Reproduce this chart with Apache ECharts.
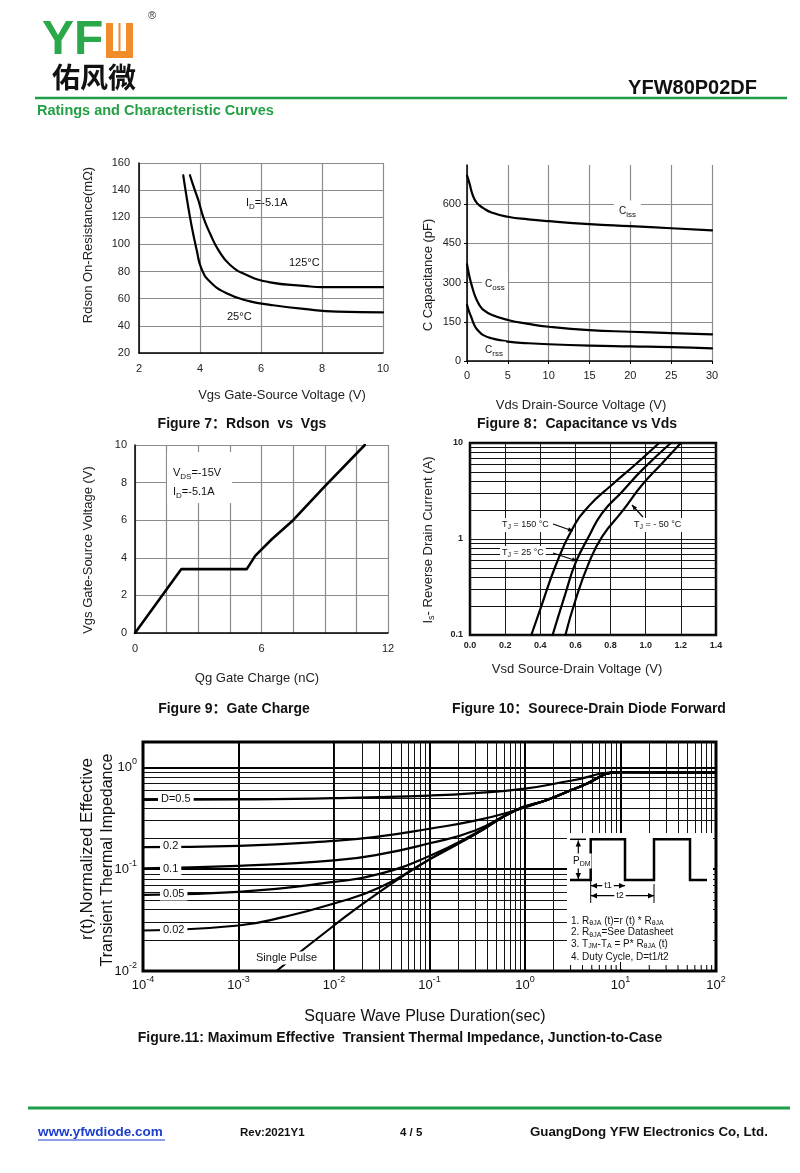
<!DOCTYPE html>
<html><head><meta charset="utf-8">
<script src="https://cdn.jsdelivr.net/npm/echarts@6/dist/echarts.min.js"></script>
<style>html,body{margin:0;padding:0;background:#fff}#c{width:800px;height:1173px}</style>
</head><body><div id="c"></div><script>
const F = '"Liberation Sans", Arial, "Noto Sans CJK SC", sans-serif';

// ---------- DATA ----------
// Figure 7: Rdson vs Vgs  [Vgs (V), Rdson (mOhm)]
const fig7Vgs25 = [[3.45,151],[3.56,135],[3.73,113],[3.89,96],[4.05,82],[4.33,72.5],[4.87,64],[5.64,58],[6.3,55.5],[7.4,52.5],[8.5,50.5],[10,50]];
const fig7Vgs125 = [[3.67,151],[3.8,142],[3.94,133],[4.11,120],[4.33,108],[4.6,96],[4.98,85],[5.53,77.5],[6.3,72],[7.4,69.5],[8,68.5],[10,68.5]];
// Figure 8: Capacitance vs Vds [Vds (V), C (pF)]
const fig8Ciss = [[0,710],[0.3,680],[0.7,635],[1.2,605],[2,585],[3,568],[5,552],[7.5,542],[10,535],[15,524],[20,516],[25,508],[30,500]];
const fig8Coss = [[0,370],[0.25,330],[0.5,298],[1,247],[1.5,215],[2,196],[3,177],[5,157],[7.5,142],[10,131],[15,118],[20,112],[25,107],[30,102]];
const fig8Crss = [[0,215],[0.25,190],[0.5,170],[1,131],[1.5,112],[2,99],[3,87],[5,74],[7.5,68],[10,64],[15,59],[20,56],[25,53],[30,48]];
// Figure 9: Gate charge [Qg (nC), Vgs (V)]
const fig9Qg = [[0,0],[2.2,3.4],[5.3,3.4],[5.7,4.1],[6.5,5.0],[7.5,6.0],[9,7.8],[10.9,10]];
const fig9XLabels = [0, 6, 12];
// Figure 10: Source-drain diode forward [Vsd (V), Is (A)]
const fig10T150 = [[0.349,0.1],[0.41,0.21],[0.486,0.52],[0.58,1.25],[0.676,2.2],[0.81,3.7],[0.943,6.0],[1.076,10]];
const fig10T25 = [[0.47,0.1],[0.543,0.27],[0.6,0.56],[0.676,1.06],[0.752,1.86],[0.867,3.13],[0.98,5.25],[1.143,10]];
const fig10Tm50 = [[0.543,0.1],[0.6,0.23],[0.676,0.56],[0.752,1.06],[0.867,1.95],[0.98,3.67],[1.095,6.2],[1.2,10]];
const fig10YLabels = [0.1, 1, 10];
// Figure 11: Transient thermal impedance [t (s), r(t)]
const fig11D05 = [[1e-4,0.48],[1e-3,0.485],[1e-2,0.5],[0.1,0.53],[0.3,0.56],[1,0.62],[3,0.74],[10,0.9],[100,0.89]];
const fig11D02 = [[1e-4,0.165],[1e-3,0.17],[1e-2,0.19],[0.03,0.21],[0.1,0.25],[0.3,0.3],[0.8,0.38],[1.7,0.48],[3.8,0.65],[10,0.9],[100,0.89]];
const fig11D01 = [[1e-4,0.102],[1e-3,0.108],[1e-2,0.122],[0.03,0.14],[0.1,0.18],[0.3,0.24],[0.8,0.38],[1.7,0.48],[3.8,0.65],[10,0.9],[100,0.89]];
const fig11D005 = [[1e-4,0.056],[1e-3,0.06],[1e-2,0.075],[0.03,0.09],[0.1,0.135],[0.3,0.225],[0.8,0.38],[1.7,0.48],[3.8,0.65],[10,0.9],[100,0.89]];
const fig11D002 = [[1e-4,0.025],[1e-3,0.028],[3e-3,0.034],[1e-2,0.046],[0.03,0.066],[0.1,0.125],[0.3,0.22],[0.8,0.38],[1.7,0.48],[3.8,0.65],[10,0.9],[100,0.89]];
const fig11Single = [[2.5e-3,0.01],[1e-2,0.028],[0.03,0.06],[0.1,0.125],[0.3,0.22],[0.8,0.38],[1.7,0.48],[3.8,0.65],[10,0.9],[100,0.89]];
const fig11XExp = [-4,-3,-2,-1,0,1,2];
const fig11YExp = [-2,-1,0];

// ---------- helpers ----------
const GRAY = '#8c8c8c';
function minorLog(e0, e1, maxV) {
  const out = [];
  for (let e = e0; e < e1; e++) for (let m = 2; m <= 9; m++) {
    const v = +(m * Math.pow(10, e)).toPrecision(3);
    if (v < maxV) out.push(v);
  }
  return out;
}
const fig10MinorY = minorLog(-1, 1, 10);
const fig11MinorX = minorLog(-4, 2, 100);
const fig11MinorY = minorLog(-2, 1, 1.78);

function curve(data, gi, width, smooth) {
  return { type: 'line', xAxisIndex: gi, yAxisIndex: gi, data: data, symbol: 'none', showSymbol: false,
    smooth: smooth, lineStyle: { color: '#000', width: width, join: 'round', cap: 'round' }, z: 3, silent: true, animation: false };
}
function gridLines(gi, xs, ys, width) {
  return { type: 'line', xAxisIndex: gi, yAxisIndex: gi, data: [], z: 1, silent: true, animation: false,
    markLine: { z: 1, symbol: ['none', 'none'], silent: true, animation: false, label: { show: false },
      emphasis: { disabled: true }, lineStyle: { color: '#111', width: width, type: 'solid' },
      data: xs.map(v => ({ xAxis: v })).concat(ys.map(v => ({ yAxis: v }))) } };
}
const SUB = { s: { font: '8px ' + F, fontSize: 8, verticalAlign: 'bottom', lineHeight: 9 } };
function T(x, y, text, o) {
  o = o || {};
  const font = o.font || ('11px ' + F);
  const st = { text: text, font: font, fill: o.fill || '#111',
    align: o.align || 'left', verticalAlign: o.va || 'middle',
    textAlign: o.align || 'left', textVerticalAlign: o.va || 'middle' };
  if (o.rich) { st.rich = o.rich; st.lineHeight = o.lh || 15; }
  if (o.bg) { st.backgroundColor = '#fff'; st.padding = o.pad || [1, 2]; st.textBackgroundColor = '#fff'; st.textPadding = o.pad || [1, 2]; }
  return { type: 'text', x: x, y: y, rotation: o.rot || 0, z: o.z || 100, silent: true, style: st };
}
function L(x1, y1, x2, y2, w, z) {
  return { type: 'line', z: z || 100, silent: true, shape: { x1: x1, y1: y1, x2: x2, y2: y2 }, style: { stroke: '#000', lineWidth: w || 1 } };
}
function R(x, y, w, h, fill, z) {
  return { type: 'rect', z: z || 90, silent: true, shape: { x: x, y: y, width: w, height: h }, style: { fill: fill } };
}
function head(x1, y1, x2, y2, size) {
  const a = Math.atan2(y2 - y1, x2 - x1), s = size || 5, w = s * 0.45;
  const bx = x2 - s * Math.cos(a), by = y2 - s * Math.sin(a);
  return { type: 'polygon', z: 101, silent: true, shape: { points: [[x2, y2], [bx + w * Math.sin(a), by - w * Math.cos(a)], [bx - w * Math.sin(a), by + w * Math.cos(a)]] }, style: { fill: '#000' } };
}
function arrow(x1, y1, x2, y2, w, s) { return [L(x1, y1, x2, y2, w || 1), head(x1, y1, x2, y2, s)]; }
function dblArrow(x1, y1, x2, y2, w, s) { return [L(x1, y1, x2, y2, w || 1), head(x1, y1, x2, y2, s), head(x2, y2, x1, y1, s)]; }

// ---------- axes ----------
const lab = (sz, extra) => Object.assign({ fontSize: sz, color: '#222', fontFamily: F }, extra || {});
const blackLine = (w) => ({ show: true, onZero: false, lineStyle: { color: '#000', width: w } });
const graySplit = { show: true, lineStyle: { color: GRAY, width: 1.2 } };
const expFmt = v => '{b|10}{s|' + Math.round(Math.log10(v)) + '}';
const expRich = { b: { fontSize: 13, lineHeight: 20, fontFamily: F, color: '#111' }, s: { fontSize: 9, lineHeight: 9, verticalAlign: 'top', fontFamily: F, color: '#111' } };

const xAxis = [
  { gridIndex: 0, type: 'value', min: 2, max: 10, interval: 2, axisLine: blackLine(1.5), axisTick: { show: false }, axisLabel: lab(11, { margin: 10 }), splitLine: graySplit },
  { gridIndex: 1, type: 'value', min: 0, max: 30, interval: 5, axisLine: blackLine(1.5), axisTick: { show: true, length: 3, lineStyle: { color: '#000' } }, axisLabel: lab(11, { margin: 9 }), splitLine: graySplit },
  { gridIndex: 2, type: 'value', min: 0, max: 12, interval: 1.5, axisLine: blackLine(1.5), axisTick: { show: false }, axisLabel: lab(11, { margin: 10, formatter: v => fig9XLabels.indexOf(v) >= 0 ? String(v) : '' }), splitLine: graySplit },
  { gridIndex: 3, type: 'value', min: 0, max: 1.4, interval: 0.2, axisLine: { show: false }, axisTick: { show: false }, axisLabel: lab(9, { fontWeight: 'bold', margin: 6, formatter: v => v.toFixed(1) }), splitLine: { show: true, lineStyle: { color: '#1a1a1a', width: 1 } } },
  { gridIndex: 4, type: 'log', logBase: 10, min: 1e-4, max: 100, axisLine: { show: false }, axisTick: { show: false }, axisLabel: { margin: 4, formatter: v => fig11XExp.indexOf(Math.round(Math.log10(v))) >= 0 ? expFmt(v) : '', rich: expRich }, splitLine: { show: true, lineStyle: { color: '#000', width: 2 } } }
];
const yAxis = [
  { gridIndex: 0, type: 'value', min: 20, max: 160, interval: 20, axisLine: blackLine(1.5), axisTick: { show: false }, axisLabel: lab(11, { margin: 9 }), splitLine: graySplit },
  { gridIndex: 1, type: 'value', min: 0, max: 750, interval: 150, axisLine: blackLine(1.5), axisTick: { show: true, length: 3, lineStyle: { color: '#000' } }, axisLabel: lab(11, { margin: 6, showMaxLabel: false }), splitLine: { show: true, showMaxLine: false, lineStyle: { color: GRAY, width: 1.2 } } },
  { gridIndex: 2, type: 'value', min: 0, max: 10, interval: 2, axisLine: blackLine(1.5), axisTick: { show: false }, axisLabel: lab(11, { margin: 8 }), splitLine: graySplit },
  { gridIndex: 3, type: 'log', logBase: 10, min: 0.1, max: 10, axisLine: { show: false }, axisTick: { show: false }, axisLabel: lab(9, { fontWeight: 'bold', margin: 7, formatter: v => { const r = +(+v).toPrecision(2); return fig10YLabels.indexOf(r) >= 0 ? String(r) : ''; } }), splitLine: { show: true, lineStyle: { color: '#1a1a1a', width: 1 } } },
  { gridIndex: 4, type: 'log', logBase: 10, min: 0.01, max: 1.78, axisLine: { show: false }, axisTick: { show: false }, axisLabel: { margin: 6, showMaxLabel: false, formatter: v => fig11YExp.indexOf(Math.round(Math.log10(v))) >= 0 && Math.abs(Math.log10(v) - Math.round(Math.log10(v))) < 1e-6 ? expFmt(v) : '', rich: expRich }, splitLine: { show: true, lineStyle: { color: '#000', width: 2 } } }
];

const S = 0.5;
const series = [
  curve(fig7Vgs125, 0, 2.2, S), curve(fig7Vgs25, 0, 2.2, S),
  curve(fig8Ciss, 1, 2.2, S), curve(fig8Coss, 1, 2.2, S), curve(fig8Crss, 1, 2.2, S),
  curve(fig9Qg, 2, 2.6, false),
  gridLines(3, [], fig10MinorY, 1),
  curve(fig10T150, 3, 2.2, S), curve(fig10T25, 3, 2.2, S), curve(fig10Tm50, 3, 2.2, S),
  gridLines(4, fig11MinorX, fig11MinorY, 1),
  curve(fig11D05, 4, 2.2, S), curve(fig11D02, 4, 2.2, S), curve(fig11D01, 4, 2.2, S),
  curve(fig11D005, 4, 2.2, S), curve(fig11D002, 4, 2.2, S), curve(fig11Single, 4, 2.2, S)
];

// ---------- text / decorations ----------
const ROT = Math.PI / 2;
const name13 = '13px ' + F;
const cap = 'bold 14px ' + F;
const g = [];
// header
g.push(T(42, 41, 'YF', { font: 'bold 48px ' + F, fill: '#2aa84a' }));
g.push(R(106, 23, 27, 35, '#f08c2a', 100));
g.push(R(113, 23, 5.5, 28, '#fff', 101));
g.push(R(120.5, 23, 5.5, 28, '#fff', 101));
g.push(T(148, 16, '®', { font: '11px ' + F, fill: '#333' }));
g.push(T(52, 77, '佑风微', { font: 'bold 28px "Noto Sans CJK SC"', fill: '#111' }));
g.push(T(757, 88, 'YFW80P02DF', { font: 'bold 20px ' + F, align: 'right' }));
g.push(Object.assign(L(35, 98, 787, 98, 2.5), { style: { stroke: '#1f9e4a', lineWidth: 2.5 } }));
g.push(T(37, 111, 'Ratings and Characteristic Curves', { font: 'bold 14.5px ' + F, fill: '#23a043' }));

// figure 7
g.push(T(88, 245, 'Rdson On-Resistance(mΩ)', { rot: ROT, align: 'center', font: name13, fill: '#222' }));
g.push(T(282, 395, 'Vgs Gate-Source Voltage (V)', { align: 'center', font: name13, fill: '#222' }));
g.push(T(242, 424, 'Figure 7：Rdson  vs  Vgs', { align: 'center', font: cap }));
g.push(T(246, 203, 'I{s|D}=-5.1A', { rich: SUB }));
g.push(T(289, 263, '125°C'));
g.push(T(227, 317, '25°C'));

// figure 8
g.push(T(428, 275, 'C Capacitance (pF)', { rot: ROT, align: 'center', font: name13, fill: '#222' }));
g.push(T(581, 405, 'Vds Drain-Source Voltage (V)', { align: 'center', font: name13, fill: '#222' }));
g.push(T(577, 424, 'Figure 8：Capacitance vs Vds', { align: 'center', font: cap }));
g.push(T(614, 211, 'C{s|iss}', { rich: SUB, font: '10px ' + F, bg: true, pad: [3, 5] }));
g.push(T(482, 284, 'C{s|oss}', { rich: SUB, font: '10px ' + F, bg: true, pad: [2, 3] }));
g.push(T(482, 350, 'C{s|rss}', { rich: SUB, font: '10px ' + F, bg: true, pad: [1, 3] }));

// figure 9
g.push(R(167, 452, 65, 51, '#fff', 60));
g.push(T(88, 550, 'Vgs Gate-Source Voltage (V)', { rot: ROT, align: 'center', font: name13, fill: '#222' }));
g.push(T(257, 678, 'Qg Gate Charge (nC)', { align: 'center', font: name13, fill: '#222' }));
g.push(T(234, 709, 'Figure 9：Gate Charge', { align: 'center', font: cap }));
g.push(T(173, 473, 'V{s|DS}=-15V', { rich: SUB }));
g.push(T(173, 492, 'I{s|D}=-5.1A', { rich: SUB }));

// figure 10
g.push(T(428, 540, 'I{s|s}- Reverse Drain Current (A)', { rot: ROT, align: 'center', font: name13, fill: '#222', rich: { s: { font: '9px ' + F, verticalAlign: 'bottom', lineHeight: 9 } }, lh: 16 }));
g.push(T(577, 669, 'Vsd Source-Drain Voltage (V)', { align: 'center', font: name13, fill: '#222' }));
g.push(T(589, 709, 'Figure 10：Sourece-Drain Diode Forward', { align: 'center', font: cap }));
const SUB9 = { s: { font: '7px ' + F, verticalAlign: 'bottom', lineHeight: 7 } };
g.push(T(500, 525, 'T{s|J} = 150 °C', { rich: SUB9, font: '9px ' + F, bg: true, pad: [1, 2], lh: 12 }));
g.push(T(500, 553, 'T{s|J} = 25 °C', { rich: SUB9, font: '9px ' + F, bg: true, pad: [1, 2], lh: 12 }));
g.push(T(632, 525, 'T{s|J} = - 50 °C', { rich: SUB9, font: '9px ' + F, bg: true, pad: [1, 2], lh: 12 }));
g.push(...arrow(553, 524, 573, 531, 1.2, 5));
g.push(...arrow(553, 553, 577, 561, 1.2, 5));
g.push(...arrow(643, 517, 632, 505, 1.2, 5));

// figure 11
g.push(T(87, 849, 'r(t),Normalized Effective', { rot: ROT, align: 'center', font: '17px ' + F, fill: '#111' }));
g.push(T(108, 860, 'Transient Thermal Impedance', { rot: ROT, align: 'center', font: '16px ' + F, fill: '#111' }));
g.push(T(425, 1017, 'Square Wave Pluse Duration(sec)', { align: 'center', font: '16px ' + F, fill: '#111' }));
g.push(T(400, 1038, 'Figure.11: Maximum Effective  Transient Thermal Impedance, Junction-to-Case', { align: 'center', font: cap }));
g.push(T(158, 799, 'D=0.5', { bg: true, pad: [1, 3] }));
g.push(T(160, 846, '0.2', { bg: true, pad: [1, 3] }));
g.push(T(160, 869, '0.1', { bg: true, pad: [1, 3] }));
g.push(T(160, 894, '0.05', { bg: true, pad: [1, 3] }));
g.push(T(160, 930, '0.02', { bg: true, pad: [1, 3] }));
g.push(T(254, 958, 'Single Pulse', { bg: true, pad: [1, 2] }));
// inset
g.push(R(567, 833, 146, 136, '#fff', 60));
g.push({ type: 'polyline', z: 100, silent: true, shape: { points: [[570, 880], [590.7, 880], [590.7, 839.3], [625, 839.3], [625, 880], [654, 880], [654, 839.3], [690, 839.3], [690, 880], [707, 880]] }, style: { stroke: '#000', lineWidth: 2.5, fill: null } });
g.push(L(570, 839.3, 586, 839.3, 1.5));
g.push(...dblArrow(578.3, 840.5, 578.3, 879, 1.2, 6));
g.push(T(572, 861, 'P{s|DM}', { rich: { s: { font: '7px ' + F, verticalAlign: 'bottom', lineHeight: 7 } }, font: '10px ' + F, bg: true, pad: [1, 1], lh: 13 }));
g.push(L(590.7, 881, 590.7, 903, 1));
g.push(L(654, 884, 654, 903, 1));
g.push(...dblArrow(591, 885.7, 625, 885.7, 1.2, 6));
g.push(...dblArrow(591, 895.7, 654, 895.7, 1.2, 6));
g.push(T(608, 885.7, 't1', { align: 'center', font: '9px ' + F, bg: true, pad: [0, 2] }));
g.push(T(620, 895.7, 't2', { align: 'center', font: '9px ' + F, bg: true, pad: [0, 2] }));
const SUBN = { s: { font: '7px ' + F, verticalAlign: 'bottom', lineHeight: 7 } };
g.push(T(571, 921, '1. R{s|θJA} (t)=r (t) * R{s|θJA}', { rich: SUBN, font: '10px ' + F, lh: 12 }));
g.push(T(571, 932.5, '2. R{s|θJA}=See Datasheet', { rich: SUBN, font: '10px ' + F, lh: 12 }));
g.push(T(571, 944, '3. T{s|JM}-T{s|A} = P* R{s|θJA} (t)', { rich: SUBN, font: '10px ' + F, lh: 12 }));
g.push(T(571, 957, '4. Duty Cycle, D=t1/t2', { font: '10px ' + F }));

// footer
g.push(Object.assign(L(28, 1108, 790, 1108, 3), { style: { stroke: '#1f9e4a', lineWidth: 3 } }));
g.push(T(38, 1132, 'www.yfwdiode.com', { font: 'bold 13.5px ' + F, fill: '#1d3fcc' }));
g.push(Object.assign(L(38, 1140, 165, 1140, 1), { style: { stroke: '#1d3fcc', lineWidth: 1.2 } }));
g.push(T(240, 1133, 'Rev:2021Y1', { font: 'bold 11.5px ' + F }));
g.push(T(400, 1133, '4 / 5', { font: 'bold 11.5px ' + F }));
g.push(T(530, 1132, 'GuangDong YFW Electronics Co, Ltd.', { font: 'bold 13.3px ' + F }));

const chart = echarts.init(document.getElementById('c'), null, { renderer: 'canvas' });
const baseOption = {
  animation: false,
  backgroundColor: '#fff',
  textStyle: { fontFamily: F },
  grid: [
    { left: 139, top: 163, width: 244, height: 190 },
    { left: 467, top: 165, width: 245, height: 196 },
    { left: 135, top: 445, width: 253, height: 188 },
    { left: 470, top: 443, width: 246, height: 192, show: true, borderColor: '#000', borderWidth: 2.5 },
    { left: 143, top: 742, width: 573, height: 229, show: true, borderColor: '#000', borderWidth: 3 }
  ],
  xAxis: xAxis,
  yAxis: yAxis,
  series: series,
  graphic: { elements: g }
};
chart.setOption(baseOption);
// small inward minor ticks along the bottom edge of figure 11, visible inside the inset box
const ticks = [];
fig11MinorX.concat([10]).filter(v => v > 2.5).forEach(v => {
  const p = chart.convertToPixel({ gridIndex: 4 }, [v, 0.01]);
  ticks.push(L(p[0], p[1] - 1.5, p[0], p[1] - (v === 10 ? 9 : 6), 1, 102));
});
chart.setOption({ graphic: { elements: g.concat(ticks) } }, { replaceMerge: ['graphic'] });
</script></body></html>
